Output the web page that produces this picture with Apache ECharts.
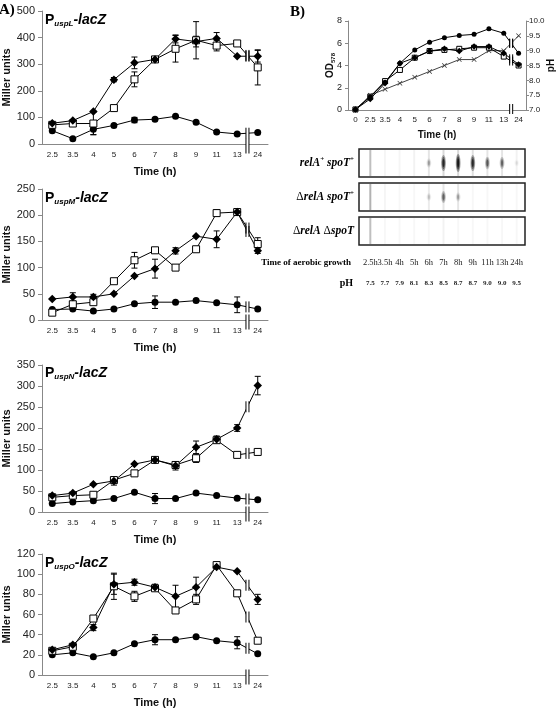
<!DOCTYPE html>
<html><head><meta charset="utf-8">
<script src="https://cdn.jsdelivr.net/npm/echarts@6/dist/echarts.min.js"></script>
<style>html,body{margin:0;padding:0;background:#fff}#c{width:560px;height:709px}</style>
</head><body><div id="c"></div>
<script>
// ---------- Panel A data ----------
const timeCats = ['2.5','3.5','4','5','6','7','8','9','11','13','24'];

const uspL_wt   = [78, 88, 122, 242, 305, 318, 395, 385, 397, 330, 330];
const uspL_relA = [72, 77, 77, 135, 243, 318, 358, 390, 370, 378, 288];
const uspL_dbl  = [50, 20, 55, 70, 90, 93, 104, 82, 45, 38, 43];
const uspL_wtErr   = [0, 0, 0, 8, 22, 8, 15, 20, 22, 0, 22];
const uspL_relAErr = [0, 0, 42, 0, 28, 0, 50, 70, 20, 0, 66];
const uspL_dblErr  = [0, 0, 20, 0, 10, 0, 0, 0, 0, 0, 0];

const uspM_wt   = [40, 44, 44, 50, 84, 98, 132, 160, 154, 206, 132];
const uspM_relA = [14, 30, 34, 74, 114, 133, 100, 135, 204, 206, 145];
const uspM_dbl  = [20, 21, 17, 21, 31, 34, 34, 37, 33, 29, 21];
const uspM_wtErr   = [0, 8, 5, 0, 0, 18, 6, 0, 16, 0, 5];
const uspM_relAErr = [0, 0, 0, 4, 15, 4, 5, 0, 6, 6, 12];
const uspM_dblErr  = [0, 0, 0, 0, 0, 12, 0, 0, 0, 15, 0];

const uspN_wt   = [39, 45, 66, 74, 114, 124, 110, 154, 173, 200, 301];
const uspN_relA = [35, 39, 41, 76, 92, 124, 112, 128, 171, 136, 143];
const uspN_dbl  = [20, 24, 27, 32, 47, 32, 32, 45, 39, 33, 29];
const uspN_wtErr   = [0, 0, 0, 10, 0, 0, 10, 15, 8, 8, 22];
const uspN_relAErr = [0, 0, 0, 0, 0, 0, 0, 10, 0, 0, 0];
const uspN_dblErr  = [0, 0, 0, 0, 0, 12, 0, 0, 0, 0, 0];

const uspO_wt   = [25, 30, 47, 90, 92, 87, 78, 87, 107, 103, 75];
const uspO_relA = [24, 28, 56, 88, 78, 86, 64, 75, 109, 81, 34];
const uspO_dbl  = [20, 22, 18, 22, 31, 35, 35, 38, 34, 32, 21];
const uspO_wtErr   = [0, 0, 3, 10, 3, 3, 11, 10, 0, 0, 5];
const uspO_relAErr = [0, 0, 0, 13, 5, 0, 0, 5, 0, 0, 0];
const uspO_dblErr  = [0, 0, 0, 0, 0, 5, 0, 0, 0, 6, 0];

const yMaxA = [500, 250, 350, 120];
const yStepA = [100, 50, 50, 20];
const geneNames = ['uspL', 'uspM', 'uspN', 'uspO'];

// ---------- Panel B data ----------
const timeCatsB = ['0','2.5','3.5','4','5','6','7','8','9','11','13','24'];
const odWT   = [0.05, 1.2, 2.5, 4.2, 5.4, 6.1, 6.5, 6.7, 6.8, 7.3, 6.9, 5.1];
const odRelA = [0.05, 1.0, 2.4, 4.2, 4.7, 5.3, 5.5, 5.3, 5.7, 5.7, 5.1, 4.1];
const odDbl  = [0.05, 1.2, 2.6, 3.6, 4.7, 5.3, 5.4, 5.5, 5.6, 5.6, 4.8, 4.0];
const phB    = [7.0, 7.5, 7.7, 7.9, 8.1, 8.3, 8.5, 8.7, 8.7, 9.0, 9.0, 9.5];

// gel lanes (2.5h .. 24h): band intensity and lane streak intensity
const laneLabels = ['2.5h','3.5h','4h','5h','6h','7h','8h','9h','11h','13h','24h'];
const gelWT_band     = [0, 0, 0, 0, 0.25, 0.85, 1.0, 0.85, 0.55, 0.5, 0.08];
const gelWT_streak   = [0.25, 0.04, 0.04, 0.05, 0.1, 0.15, 0.15, 0.12, 0.1, 0.1, 0.05];
const gelRelA_band   = [0, 0, 0, 0, 0.15, 0.5, 0.25, 0, 0, 0, 0];
const gelRelA_streak = [0.3, 0.04, 0.03, 0.03, 0.08, 0.1, 0.1, 0.03, 0.03, 0.03, 0.03];
const gelDbl_band    = [0, 0, 0, 0, 0, 0, 0, 0, 0, 0, 0];
const gelDbl_streak  = [0.25, 0.03, 0.03, 0.03, 0.03, 0.05, 0.03, 0.03, 0.03, 0.03, 0.03];

// ---------- assembly ----------
const panelsA = [
  {wt: uspL_wt, relA: uspL_relA, dbl: uspL_dbl, ewt: uspL_wtErr, erelA: uspL_relAErr, edbl: uspL_dblErr},
  {wt: uspM_wt, relA: uspM_relA, dbl: uspM_dbl, ewt: uspM_wtErr, erelA: uspM_relAErr, edbl: uspM_dblErr},
  {wt: uspN_wt, relA: uspN_relA, dbl: uspN_dbl, ewt: uspN_wtErr, erelA: uspN_relAErr, edbl: uspN_dblErr},
  {wt: uspO_wt, relA: uspO_relA, dbl: uspO_dbl, ewt: uspO_wtErr, erelA: uspO_relAErr, edbl: uspO_dblErr}
];
const gridsA = [
  {left: 42, top: 11, width: 226, height: 133},
  {left: 42, top: 189, width: 226, height: 131},
  {left: 42, top: 365, width: 226, height: 147},
  {left: 42, top: 554, width: 226, height: 123}
];
const SANS = 'Liberation Sans';
const SERIF = 'Liberation Serif';

const chart = echarts.init(document.getElementById('c'), null, {renderer: 'canvas'});

function renderErr(params, api) {
  const x = api.value(0), v = api.value(1), e = api.value(2);
  const t = api.coord([x, v + e]), b = api.coord([x, v - e]);
  const w = 3;
  const st = {stroke: '#000', lineWidth: 1};
  return {type: 'group', children: [
    {type: 'line', shape: {x1: t[0], y1: t[1], x2: b[0], y2: b[1]}, style: st},
    {type: 'line', shape: {x1: t[0] - w, y1: t[1], x2: t[0] + w, y2: t[1]}, style: st},
    {type: 'line', shape: {x1: b[0] - w, y1: b[1], x2: b[0] + w, y2: b[1]}, style: st}
  ]};
}

function renderGel(params, api) {
  const lane = api.value(0), band = api.value(1), streak = api.value(2);
  const c = api.coord([lane, 0.5]);
  const h = api.size([0, 1])[1];
  const top = c[1] - h / 2;
  const ch = [];
  if (streak > 0) ch.push({type: 'rect', shape: {x: c[0] - 1, y: top + 1, width: 2, height: h - 2}, style: {fill: 'rgba(0,0,0,' + streak + ')'}});
  if (band > 0) {
    const ry = 3 + 6 * band;
    [[2.4, 1, 0.35], [1.7, 0.75, 0.45], [1.0, 0.5, 0.7]].forEach(function (p) {
      ch.push({type: 'ellipse', shape: {cx: c[0], cy: c[1], rx: p[0], ry: ry * p[1]}, style: {fill: 'rgba(0,0,0,' + (p[2] * band) + ')'}});
    });
  }
  return {type: 'group', children: ch};
}

function lineSeries(xi, yi, data, kind, size) {
  const base = {type: 'line', xAxisIndex: xi, yAxisIndex: yi, data: data, animation: false,
    lineStyle: {color: '#000', width: 1}, z: 3, symbolSize: size};
  if (kind === 'diamond') return Object.assign(base, {symbol: 'diamond', symbolSize: size + 1.5, itemStyle: {color: '#000'}});
  if (kind === 'square') return Object.assign(base, {symbol: 'rect', itemStyle: {color: '#fff', borderColor: '#000', borderWidth: 1}});
  if (kind === 'cross') return Object.assign(base, {symbol: 'path://M0,1L1,0L5,4L9,0L10,1L6,5L10,9L9,10L5,6L1,10L0,9L4,5Z', itemStyle: {color: '#333'}, lineStyle: {color: '#444', width: 1}});
  return Object.assign(base, {symbol: 'circle', itemStyle: {color: '#000'}});
}
function errSeries(g, vals, errs) {
  const d = [];
  vals.forEach(function (v, i) { if (errs[i] > 0) d.push([i, v, errs[i]]); });
  return {type: 'custom', xAxisIndex: g, yAxisIndex: g, renderItem: renderErr, data: d, z: 2, animation: false, encode: {x: 0, y: 1}};
}

const grid = [], xAxis = [], yAxis = [], series = [];
gridsA.forEach(function (gr, i) {
  grid.push(gr);
  xAxis.push({type: 'category', gridIndex: i, data: timeCats, boundaryGap: true,
    axisLine: {lineStyle: {color: '#888'}}, axisTick: {length: 4, lineStyle: {color: '#888'}},
    axisLabel: {interval: 0, fontSize: 8, color: '#222', margin: 7, fontFamily: SANS},
    name: 'Time (h)', nameLocation: 'middle', nameGap: 22,
    nameTextStyle: {fontWeight: 'bold', fontSize: 11, color: '#111', fontFamily: SANS}});
  yAxis.push({type: 'value', gridIndex: i, min: 0, max: yMaxA[i], interval: yStepA[i],
    axisLine: {show: true, lineStyle: {color: '#888'}}, axisTick: {show: true, length: 4, lineStyle: {color: '#888'}},
    splitLine: {show: false}, axisLabel: {fontSize: 11, color: '#222', margin: 7, fontFamily: SANS},
    name: 'Miller units', nameLocation: 'middle', nameGap: 24, nameRotate: 90,
    nameTextStyle: {fontWeight: 'bold', fontSize: 11, color: '#111', fontFamily: SANS}});
  const p = panelsA[i];
  series.push(errSeries(i, p.dbl, p.edbl), errSeries(i, p.relA, p.erelA), errSeries(i, p.wt, p.ewt));
  series.push(lineSeries(i, i, p.dbl, 'circle', 7));
  series.push(lineSeries(i, i, p.relA, 'square', 7));
  series.push(lineSeries(i, i, p.wt, 'diamond', 7));
});

// Panel B growth chart (grid 4, xAxis 4, yAxis 4 & 5)
grid.push({left: 348, top: 21, width: 178, height: 89});
xAxis.push({type: 'category', gridIndex: 4, data: timeCatsB, boundaryGap: true,
  axisLine: {lineStyle: {color: '#888'}}, axisTick: {length: 3, lineStyle: {color: '#888'}},
  axisLabel: {interval: 0, fontSize: 8, color: '#222', margin: 6, fontFamily: SANS},
  name: 'Time (h)', nameLocation: 'middle', nameGap: 20,
  nameTextStyle: {fontWeight: 'bold', fontSize: 10, color: '#111', fontFamily: SANS}});
yAxis.push({type: 'value', gridIndex: 4, min: 0, max: 8, interval: 2, position: 'left',
  axisLine: {show: true, lineStyle: {color: '#888'}}, axisTick: {show: true, length: 3, lineStyle: {color: '#888'}},
  splitLine: {show: false}, axisLabel: {fontSize: 9, color: '#222', margin: 6, fontFamily: SANS},
  name: '{a|OD}{b|578}', nameLocation: 'middle', nameGap: 12, nameRotate: 90, nameMoveOverlap: false,
  nameTextStyle: {rich: {a: {fontWeight: 'bold', fontSize: 10, fontFamily: SANS, color: '#111', lineHeight: 12},
    b: {fontWeight: 'bold', fontSize: 6, fontFamily: SANS, color: '#111', verticalAlign: 'bottom', lineHeight: 8}}}});
yAxis.push({type: 'value', gridIndex: 4, min: 7, max: 10, interval: 0.5, position: 'right',
  axisLine: {show: true, lineStyle: {color: '#888'}}, axisTick: {show: true, length: 3, lineStyle: {color: '#888'}},
  splitLine: {show: false}, axisLabel: {fontSize: 8, color: '#222', margin: 3, fontFamily: SANS, formatter: function (v) { return v.toFixed(1); }},
  name: 'pH', nameLocation: 'middle', nameGap: 20, nameRotate: 90, nameMoveOverlap: false,
  nameTextStyle: {fontWeight: 'bold', fontSize: 10, color: '#111', fontFamily: SANS}});
series.push(lineSeries(4, 5, phB, 'cross', 5));
series.push(lineSeries(4, 4, odDbl, 'square', 5));
series.push(lineSeries(4, 4, odRelA, 'diamond', 5));
series.push(lineSeries(4, 4, odWT, 'circle', 5));

// Gel grids (5,6,7)
const gelTops = [149, 183, 217];
const gelRows = [[gelWT_band, gelWT_streak], [gelRelA_band, gelRelA_streak], [gelDbl_band, gelDbl_streak]];
gelTops.forEach(function (t, k) {
  const gi = 5 + k;
  grid.push({left: 363, top: t, width: 161, height: 28});
  xAxis.push({type: 'category', gridIndex: gi, data: laneLabels, boundaryGap: true,
    axisLine: {show: false}, axisTick: {show: false},
    axisLabel: {show: k === 2, interval: 0, margin: 8,
      formatter: function (val, idx) { return '{t|' + val + '}\n{p|' + phB[idx + 1].toFixed(1) + '}'; },
      rich: {t: {fontFamily: SERIF, fontSize: 8.5, lineHeight: 20, color: '#222'},
             p: {fontFamily: SERIF, fontSize: 7, fontWeight: 'bold', lineHeight: 20, color: '#222'}}}});
  yAxis.push({type: 'value', gridIndex: gi, min: 0, max: 1, show: false});
  const d = gelRows[k][0].map(function (b, i) { return [i, b, gelRows[k][1][i]]; });
  series.push({type: 'custom', xAxisIndex: gi, yAxisIndex: 4 + 2 + k, renderItem: renderGel, data: d, animation: false, encode: {x: 0, y: 1}});
});

chart.setOption({animation: false, grid: grid, xAxis: xAxis, yAxis: yAxis, series: series});

// ---------- decorations ----------
const G = [];
function brk(cx, cy, h, gap) {
  const st = {stroke: '#000', lineWidth: 1};
  G.push({type: 'rect', shape: {x: cx - gap / 2, y: cy - h / 2, width: gap, height: h}, style: {fill: '#fff'}, z: 100});
  G.push({type: 'line', shape: {x1: cx - gap / 2, y1: cy - h / 2, x2: cx - gap / 2, y2: cy + h / 2}, style: st, z: 101});
  G.push({type: 'line', shape: {x1: cx + gap / 2, y1: cy - h / 2, x2: cx + gap / 2, y2: cy + h / 2}, style: st, z: 101});
}
function segBreak(finder, i1, v1, i2, v2, h) {
  const a = chart.convertToPixel(finder, [i1, v1]);
  const b = chart.convertToPixel(finder, [i2, v2]);
  brk((a[0] + b[0]) / 2, (a[1] + b[1]) / 2, h, 3);
}
panelsA.forEach(function (p, i) {
  const f = {xAxisIndex: i, yAxisIndex: i};
  [p.dbl, p.relA, p.wt].forEach(function (arr) { segBreak(f, 9, arr[9], 10, arr[10], 11); });
  const a = chart.convertToPixel(f, [9, 0]), b = chart.convertToPixel(f, [10, 0]);
  brk((a[0] + b[0]) / 2, a[1] + 2, 15, 3);
});
{
  const f = {xAxisIndex: 4, yAxisIndex: 4};
  const fp = {xAxisIndex: 4, yAxisIndex: 5};
  [odDbl, odRelA, odWT].forEach(function (arr) { segBreak(f, 10, arr[10], 11, arr[11], 9); });
  segBreak(fp, 10, phB[10], 11, phB[11], 9);
  const a = chart.convertToPixel(f, [10, 0]), b = chart.convertToPixel(f, [11, 0]);
  brk((a[0] + b[0]) / 2, a[1] - 1, 10, 3);
}
// gel boxes
gelTops.forEach(function (t) {
  G.push({type: 'rect', shape: {x: 359, y: t, width: 166, height: 28}, style: {fill: 'none', stroke: '#222', lineWidth: 1.5}, z: 100});
});
// subplot titles
const titleY = [20, 198, 373, 563];
geneNames.forEach(function (g, i) {
  G.push({type: 'text', x: 45, y: titleY[i], z: 100, style: {
    text: '{p|P}{s|' + g + '}{l|-lacZ}', align: 'left', verticalAlign: 'middle',
    rich: {p: {fontFamily: SANS, fontWeight: 'bold', fontSize: 14, lineHeight: 16, fill: '#000'},
           s: {fontFamily: SANS, fontWeight: 'bold', fontStyle: 'italic', fontSize: 8, lineHeight: 9, verticalAlign: 'bottom', fill: '#000'},
           l: {fontFamily: SANS, fontWeight: 'bold', fontStyle: 'italic', fontSize: 14, lineHeight: 16, fill: '#000'}}}});
});
// panel letters
G.push({type: 'text', x: -1, y: 10, z: 100, style: {text: 'A)', fontFamily: SERIF, fontWeight: 'bold', fontSize: 15, fill: '#000', verticalAlign: 'middle'}});
G.push({type: 'text', x: 290, y: 12, z: 100, style: {text: 'B)', fontFamily: SERIF, fontWeight: 'bold', fontSize: 15, fill: '#000', verticalAlign: 'middle'}});
// strain labels
const strainRich = {
  i: {fontFamily: SERIF, fontWeight: 'bold', fontStyle: 'italic', fontSize: 11.5, lineHeight: 14, fill: '#000'},
  n: {fontFamily: SERIF, fontSize: 11.5, lineHeight: 14, fill: '#000'},
  s: {fontFamily: SERIF, fontWeight: 'bold', fontSize: 7, lineHeight: 7, verticalAlign: 'top', fill: '#000'}
};
const strainTexts = ['{i|relA}{s|+}{i| spoT}{s|+}', '{n|Δ}{i|relA spoT}{s|+}', '{n|Δ}{i|relA }{n|Δ}{i|spoT}'];
strainTexts.forEach(function (s, k) {
  G.push({type: 'text', x: 354, y: gelTops[k] + 14, z: 100, style: {text: s, rich: strainRich, align: 'right', verticalAlign: 'middle'}});
});
G.push({type: 'text', x: 351, y: 263, z: 100, style: {text: 'Time of aerobic growth', fontFamily: SERIF, fontWeight: 'bold', fontSize: 9, fill: '#000', align: 'right', verticalAlign: 'middle'}});
G.push({type: 'text', x: 353, y: 283, z: 100, style: {text: 'pH', fontFamily: SERIF, fontWeight: 'bold', fontSize: 10, fill: '#000', align: 'right', verticalAlign: 'middle'}});

chart.setOption({graphic: {elements: G}});
</script></body></html>
